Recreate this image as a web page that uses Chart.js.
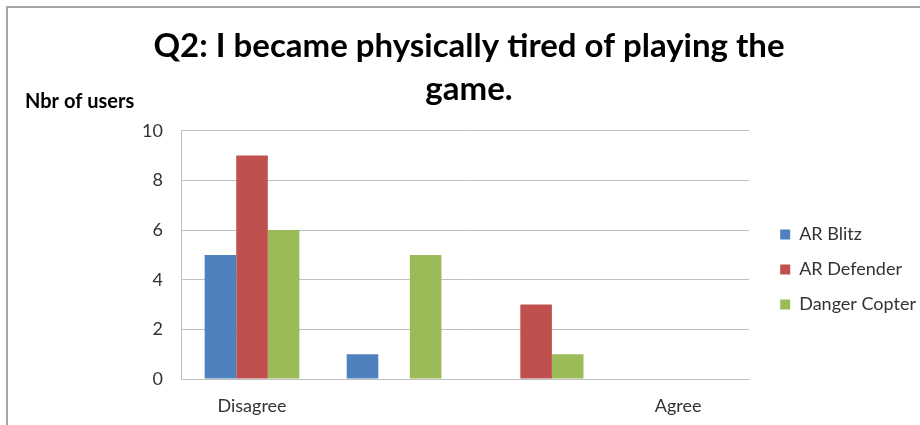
<!DOCTYPE html>
<html>
<head>
<meta charset="utf-8">
<script src="https://cdn.jsdelivr.net/npm/chart.js@4/dist/chart.umd.min.js"></script>
<style>
  html, body { margin: 0; padding: 0; background: #fff; }
  #wrap { position: relative; width: 920px; height: 425px; }
  #frame { position: absolute; left: 6px; top: 6px; right: 0; bottom: 0; border-left: 2px solid #a6a6a6; border-top: 2px solid #a6a6a6; pointer-events: none; }
  canvas { position: absolute; left: 0; top: 0; }
</style>
</head>
<body>
<div id="wrap">
  <canvas id="c" width="920" height="425"></canvas>
  <div id="frame"></div>
</div>
<script>
const categories = ['Disagree', '', '', 'Agree'];
const seriesNames = ['AR Blitz', 'AR Defender', 'Danger Copter'];
const arBlitz = [5, 1, 0, 0];
const arDefender = [9, 0, 3, 0];
const dangerCopter = [6, 5, 1, 0];
const yTicks = [0, 2, 4, 6, 8, 10];
const titleLines = ['Q2: I became physically tired of playing the', 'game.'];
const yAxisLabel = 'Nbr of users';
const colors = ['#4F81BD', '#C0504D', '#9BBB59'];

const FONT = 'Lato, "Open Sans", sans-serif';

const yLabelPlugin = {
  id: 'yLabel',
  afterDraw(chart) {
    const ctx = chart.ctx;
    const a = chart.chartArea;
    ctx.save();
    ctx.font = 'bold 20px ' + FONT;
    ctx.fillStyle = '#000';
    ctx.textAlign = 'left';
    ctx.textBaseline = 'middle';
    ctx.fillText(yAxisLabel, a.left - 156, a.top - 29);
    ctx.restore();
  }
};

// nudge the legend block to sit where the original's legend sits
const legendOffsetPlugin = {
  id: 'legendOffset',
  afterLayout(chart) {
    const lg = chart.legend;
    if (!lg) return;
    const dx = 14, dy = 61;
    lg.left += dx; lg.right += dx;
    lg.top += dy; lg.bottom += dy;
  }
};

new Chart(document.getElementById('c'), {
  type: 'bar',
  data: {
    labels: categories,
    datasets: [
      { label: seriesNames[0], data: arBlitz, backgroundColor: colors[0] },
      { label: seriesNames[1], data: arDefender, backgroundColor: colors[1] },
      { label: seriesNames[2], data: dangerCopter, backgroundColor: colors[2] }
    ]
  },
  options: {
    responsive: false,
    animation: false,
    devicePixelRatio: 1,
    layout: { padding: { left: 26, right: 8, top: 0, bottom: 8 } },
    datasets: { bar: { categoryPercentage: 0.667, barPercentage: 1.0, borderWidth: 0 } },
    scales: {
      x: {
        afterFit(scale) { scale.height = 38; },
        grid: { display: false, drawTicks: false },
        border: { display: true, color: '#bfbfbf', width: 1 },
        ticks: { color: '#333', font: { family: FONT, size: 18 }, padding: 16, maxRotation: 0, autoSkip: false }
      },
      y: {
        min: 0, max: 10,
        afterBuildTicks(scale) { scale.ticks = yTicks.map(v => ({ value: v })); },
        afterFit(scale) { scale.width = 155; },
        grid: { color: '#bfbfbf', lineWidth: 1, drawTicks: false },
        border: { display: true, color: '#bfbfbf', width: 1 },
        ticks: { color: '#333', font: { family: FONT, size: 18 }, padding: 18 }
      }
    },
    plugins: {
      title: {
        display: true,
        text: titleLines,
        color: '#000',
        font: { family: FONT, size: 33, weight: 'bold', lineHeight: 1.3 },
        padding: { top: 25, bottom: 20 }
      },
      legend: {
        position: 'right',
        labels: {
          color: '#333',
          font: { family: FONT, size: 18 },
          boxWidth: 10, boxHeight: 10,
          padding: 17
        }
      },
      tooltip: { enabled: false }
    }
  },
  plugins: [yLabelPlugin, legendOffsetPlugin]
});
</script>
</body>
</html>
